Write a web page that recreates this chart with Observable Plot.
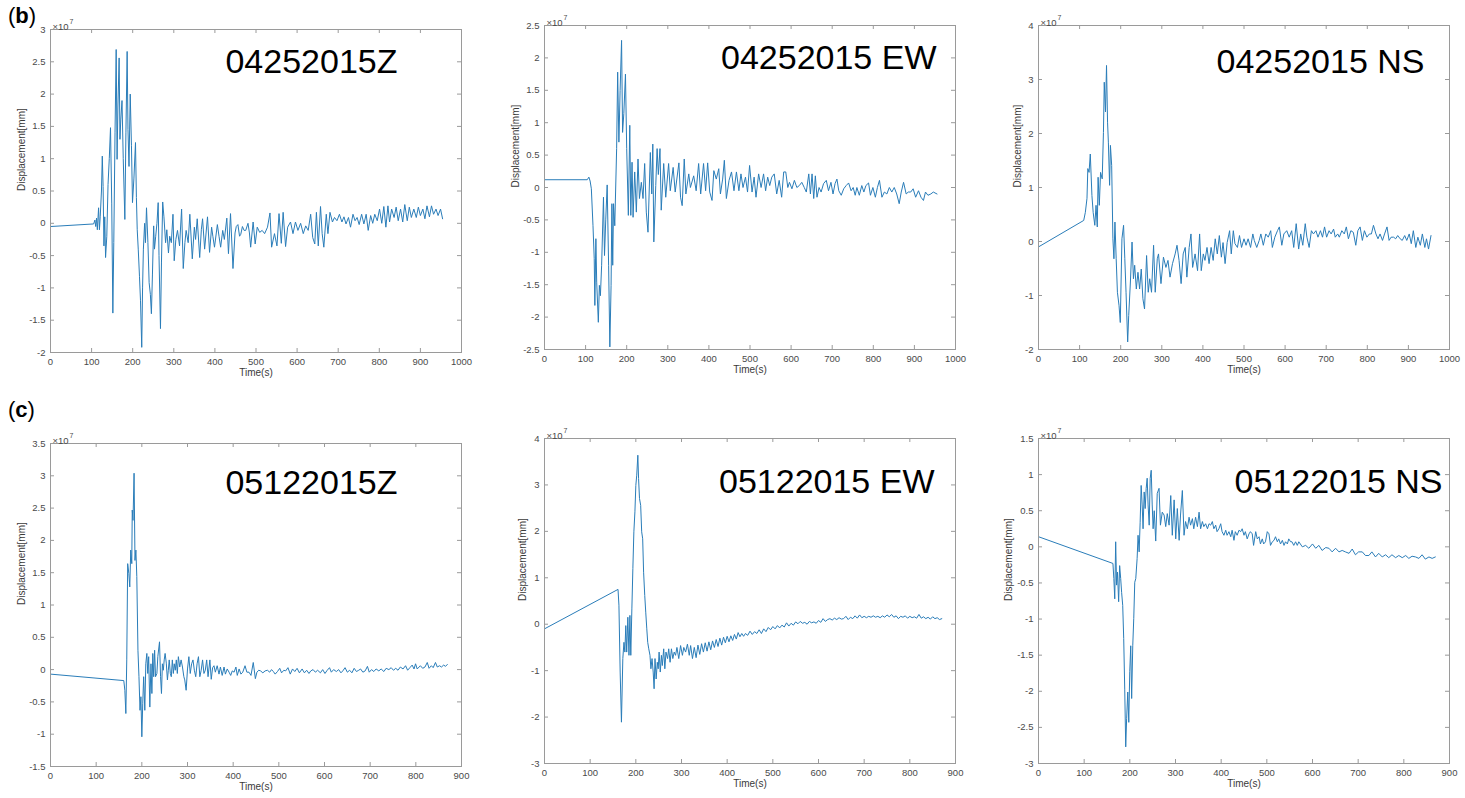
<!DOCTYPE html>
<html>
<head>
<meta charset="utf-8">
<script src="https://cdn.jsdelivr.net/npm/d3@7"></script>
<script src="https://cdn.jsdelivr.net/npm/@observablehq/plot@0.6"></script>
<style>
  html, body { margin: 0; padding: 0; background: #fff; }
  #root { position: relative; width: 1465px; height: 798px; overflow: hidden; background: #fff; font-family: "Liberation Sans", Arial, Helvetica, sans-serif; }
  .panel { position: absolute; }
  .tag { position: absolute; font-size: 22px; color: #000; line-height: 1; }
  .tag b { font-weight: bold; }
</style>
</head>
<body>
<div id="root">
  <div class="tag" style="left:8px; top:5px;">(<b>b</b>)</div>
  <div class="tag" style="left:8px; top:399px;">(<b>c</b>)</div>
</div>
<script>
// ---------- tick labels ----------
const xTicksRow1 = [0, 100, 200, 300, 400, 500, 600, 700, 800, 900, 1000];
const xTicksRow2 = [0, 100, 200, 300, 400, 500, 600, 700, 800, 900];
const yTicks0425Z  = [-2, -1.5, -1, -0.5, 0, 0.5, 1, 1.5, 2, 2.5, 3];
const yTicks0425EW = [-2.5, -2, -1.5, -1, -0.5, 0, 0.5, 1, 1.5, 2, 2.5];
const yTicks0425NS = [-2, -1, 0, 1, 2, 3, 4];
const yTicks0512Z  = [-1.5, -1, -0.5, 0, 0.5, 1, 1.5, 2, 2.5, 3, 3.5];
const yTicks0512EW = [-3, -2, -1, 0, 1, 2, 3, 4];
const yTicks0512NS = [-3, -2.5, -2, -1.5, -1, -0.5, 0, 0.5, 1, 1.5];

// ---------- panel titles ----------
const titles = ["04252015Z", "04252015 EW", "04252015 NS", "05122015Z", "05122015 EW", "05122015 NS"];

// ---------- series: [time (s), displacement (x1e7 mm)] ----------
const s0425Z = [[0,-0.05],[105,-0.01],[108,0.05],[110,-0.05],[112,0.08],[114,-0.1],[117,0.24],[119,-0.1],[121,0.1],[124,0.5],[126,1.04],[128,0.57],[130,-0.35],[132,0.1],[134,-0.53],[137,-0.2],[140,0.6],[143,1.0],[146,1.48],[149,0.3],[151.7,-1.39],[154,-0.3],[157,1.4],[159.8,2.69],[162,0.99],[164,1.8],[167,2.56],[169,1.3],[171,1.6],[174,1.9],[177,1.0],[180.9,0.06],[183.5,1.4],[186.5,2.66],[188.5,1.45],[191,0.88],[194,2.0],[197,1.2],[199.5,0.32],[203,0.7],[206.8,1.25],[209,0.4],[211,-0.1],[213.5,-0.4],[216.5,-0.82],[219,-1.2],[222,-1.92],[224,-1.0],[226,-0.4],[229,0.0],[231,-0.3],[233.6,0.24],[237,-0.3],[240,-0.92],[243,-1.1],[245.5,-1.4],[248,-0.8],[251,-0.04],[253,-0.4],[256,-0.2],[259,0.0],[262,0.32],[264,-0.5],[267.6,-1.63],[270,-0.6],[273,0.33],[276,0.1],[280,-0.3],[283,-0.1],[287,-0.46],[290,-0.2],[294,-0.3],[298,0.14],[301,-0.58],[305,-0.25],[309,-0.11],[314,-0.35],[319,0.22],[323,-0.7],[327,-0.3],[330,-0.11],[335,-0.3],[339,0.14],[345,-0.55],[350,-0.06],[353,-0.25],[357,0.07],[363,-0.53],[367,-0.1],[370,0.07],[375,-0.4],[382,0.1],[387,-0.45],[392,-0.06],[395,-0.2],[399,-0.37],[406,-0.02],[410,-0.2],[414,-0.37],[419,-0.11],[423,-0.25],[429,0.08],[433,-0.47],[438,0.15],[444,-0.7],[449,-0.15],[452,-0.05],[456,-0.02],[460,-0.2],[463,-0.17],[467,-0.05],[471,-0.11],[475,-0.11],[480.5,0.0],[484,-0.15],[487,-0.37],[493,0.02],[498,-0.32],[503,-0.06],[509,-0.14],[515,-0.11],[521,-0.16],[528,-0.06],[534,0.16],[538,-0.37],[545,-0.16],[551,-0.35],[556,0.15],[561.6,-0.31],[566,0.17],[572,-0.36],[577,-0.06],[584,0.02],[590,-0.16],[596,0.02],[602,-0.11],[608.6,0.0],[615,-0.16],[621,-0.04],[627,-0.11],[633,0.14],[638,-0.22],[643,-0.32],[647,0.17],[651.5,-0.35],[657,0.26],[661,-0.16],[665,-0.37],[671,0.14],[675,-0.16],[680,0.17],[686,0.02],[691,0.09],[697,0.04],[703,0.14],[709,0.02],[714,0.1],[719,-0.01],[725,0.09],[730,-0.06],[736,0.14],[741,0.04],[746,0.09],[751,-0.02],[757,0.14],[762.5,-0.01],[768,0.14],[773,-0.11],[779,0.12],[784,0.0],[789,0.14],[795,0.04],[800.6,0.22],[806,0.0],[811,0.26],[816,-0.06],[821,0.27],[825,0.02],[830,0.22],[836,0.09],[841,0.25],[846,0.04],[851.7,0.22],[857,0.02],[862,0.29],[868,0.04],[873,0.25],[878,0.09],[884,0.22],[890,0.09],[895,0.25],[900,0.12],[906,0.22],[911,0.07],[916,0.27],[922,0.1],[927,0.27],[932,0.14],[938,0.22],[943,0.12],[949,0.22],[954,0.07]];

const s0425EW = [[0,0.12],[104,0.12],[108,0.16],[111,0.1],[114,-0.02],[118,-0.59],[121,-1.1],[122.5,-1.82],[125,-0.79],[127,-1.46],[131,-2.08],[133.5,-1.51],[136,-1.67],[139,-1.2],[143.5,-0.15],[146,-1.05],[149,-0.5],[152.5,0.04],[156,-1.2],[159,-2.46],[162,-1.51],[164,-0.25],[166,-1.2],[168,-0.25],[171,-0.59],[175.5,0.6],[178,1.78],[181,0.7],[184,1.5],[187.5,2.27],[190,0.85],[193,1.14],[197,1.75],[200,0.6],[204,-0.43],[207.5,0.96],[210,-0.43],[213,0.39],[215.5,-0.46],[219.5,0.24],[223.5,-0.38],[227.5,0.44],[231,-0.17],[235.6,0.08],[239.7,-0.17],[243.7,0.37],[247.7,-0.38],[251.8,-0.69],[257.5,0.54],[261,-0.1],[263.5,0.67],[266,-0.84],[270.7,0.03],[274,0.6],[277,0.2],[281,0.6],[284,-0.35],[290,0.37],[295,-0.15],[302,0.37],[306,-0.05],[313,0.31],[318,-0.07],[327,0.38],[331,-0.15],[335,-0.28],[340,0.44],[344,-0.1],[351,0.21],[355,0.0],[363,0.18],[369,-0.05],[375,0.37],[380,-0.1],[387,0.37],[392,-0.05],[397,0.38],[402,-0.07],[407.6,-0.2],[412,0.26],[418,0.13],[424,0.29],[428,-0.1],[433.5,0.13],[437.6,0.42],[442.5,-0.17],[449,0.11],[455,0.24],[461,-0.05],[467,0.24],[473,-0.05],[478,0.21],[483,0.0],[489,0.16],[494,-0.07],[499,0.34],[505,-0.07],[510,0.16],[514.6,-0.15],[521,0.21],[527,0.0],[533,0.21],[538,-0.05],[543,0.16],[548,0.03],[553,0.16],[559,0.21],[565,-0.1],[571,0.11],[577,-0.15],[582,0.24],[587,0.24],[592,0.0],[596,0.08],[602,-0.02],[608,0.11],[614,0.0],[620,0.03],[626,0.08],[632,0.0],[637,-0.07],[643,0.21],[647,-0.1],[651,0.21],[655,-0.17],[659,0.18],[663,-0.15],[668,0.0],[673,-0.07],[679,0.06],[685.6,0.11],[691,-0.05],[697,0.08],[702,-0.1],[707,0.06],[711.5,0.13],[716,-0.05],[722,-0.12],[728,-0.02],[734,0.03],[740,0.07],[746,-0.05],[751,0.0],[756,-0.12],[760,0.0],[766,-0.12],[772,0.03],[777,-0.07],[782,0.03],[788.5,0.07],[793,-0.12],[799,0.0],[805,-0.15],[810,0.0],[815,0.11],[821,-0.15],[827,-0.07],[833,-0.1],[839,0.0],[845,-0.07],[851,0.0],[857,-0.1],[863,-0.25],[868,-0.07],[873.6,0.08],[880,-0.1],[885,-0.07],[891,-0.07],[897,-0.02],[903,-0.15],[910,-0.05],[916,-0.15],[922,-0.2],[927,-0.07],[933,-0.12],[940,-0.1],[946,-0.07],[955,-0.1]];

const s0425NS = [[0,-0.1],[110,0.39],[114,0.54],[118,0.8],[120,1.35],[123,1.28],[126,1.62],[130,0.85],[133,0.54],[137,0.3],[140,0.67],[143,0.27],[145,1.19],[148,0.67],[151,1.28],[155,1.16],[158,2.02],[160,2.95],[163,2.4],[165.5,3.26],[168,2.21],[170,1.84],[173,1.04],[175,1.78],[178,1.41],[181,0.05],[183.5,-0.32],[186,0.36],[189,-0.32],[192,-0.94],[196,-1.19],[199,-1.5],[203,0.05],[207,0.3],[210,-0.32],[213,-0.94],[217,-1.86],[219.5,-1.37],[223.6,-0.75],[227.6,-0.01],[231,-0.69],[234,-0.44],[238,-0.88],[242,-0.57],[246,-0.88],[250,-0.51],[254,-1.06],[258,-1.25],[263,-0.26],[267,-0.94],[270.6,-0.69],[275,-0.94],[280,-0.07],[284,-0.94],[289,-0.32],[292,-0.23],[298,-0.78],[304,-0.29],[310,-0.48],[315,-0.35],[320,-0.66],[326,-0.41],[332.5,-0.23],[337,-0.07],[342,-0.35],[347,-0.78],[352,-0.23],[357,-0.11],[361,-0.66],[366.6,-0.11],[371,0.14],[375,-0.48],[381,-0.23],[387,-0.54],[392,0.14],[396,-0.54],[401,-0.23],[405,-0.35],[410,-0.11],[415,-0.41],[420,-0.11],[425,-0.35],[430,0.05],[435,-0.23],[440,0.11],[445,-0.29],[449,-0.02],[454,-0.41],[459,-0.02],[465,0.2],[469,-0.23],[474,0.2],[478,-0.04],[484,-0.11],[489,0.11],[494,-0.11],[500,0.05],[505,-0.07],[510,0.05],[516,-0.11],[521.5,0.14],[525,0.02],[531,-0.11],[537,0.02],[541,0.14],[547,-0.07],[553,0.14],[559,0.08],[565,0.2],[569,-0.11],[575,0.08],[581.5,0.2],[586,0.27],[592,-0.07],[597,0.14],[604,0.2],[610,0.08],[616,0.2],[621,-0.11],[627,0.33],[633,-0.14],[638,0.14],[643,-0.07],[649,0.33],[653,0.08],[658.5,-0.11],[664,0.2],[669,0.14],[675,0.2],[680,0.08],[686,0.2],[691,0.08],[696,0.27],[701,0.08],[707,0.2],[712,0.14],[718,0.23],[722,0.08],[728,0.14],[732,0.08],[738,0.2],[744,0.14],[749,0.27],[754,0.05],[760,0.2],[766,0.17],[772,-0.07],[777,0.2],[782.5,0.27],[788,0.02],[793,0.2],[799,0.08],[805,0.14],[810,0.14],[815,0.3],[821,0.14],[826,0.05],[831,0.14],[837,0.02],[842,0.14],[848,0.27],[853,0.02],[858,0.08],[864,0.08],[869,0.05],[874,0.11],[880,0.05],[885,0.02],[891,0.11],[896,0.02],[902,0.14],[907,-0.04],[912,0.2],[918,-0.11],[923,0.08],[929,-0.07],[934,0.14],[940,-0.11],[944,0.05],[949,-0.14],[955,0.11]];

const s0512Z = [[0,-0.07],[160.5,-0.17],[162.8,-0.32],[165,-0.68],[167,0.15],[169,1.64],[171.5,1.49],[173.6,1.28],[175.7,1.85],[178,1.64],[179,2.47],[180.7,2.31],[183,3.04],[185,1.69],[187,1.85],[189,1.44],[191.5,0.3],[193.7,-0.11],[196,-0.63],[198,-0.42],[200,-1.04],[202,-0.52],[204,-0.11],[206.5,-0.63],[208.7,0.09],[211,0.25],[213,-0.06],[215,0.2],[217.5,-0.58],[220,0.09],[222,-0.37],[224,0.25],[226,-0.11],[228,0.3],[230,-0.11],[233,-0.06],[235,0.2],[238.7,0.43],[241,-0.11],[243,-0.37],[245,0.09],[247,-0.01],[249,0.15],[251,0.25],[253.6,0.1],[256,-0.16],[258,-0.01],[260,0.15],[262.4,-0.06],[264.5,-0.11],[266.8,0.15],[269,-0.06],[271,0.09],[273.3,-0.01],[275.5,0.15],[277.7,-0.06],[280,0.2],[283,0.04],[286,0.15],[289,0.04],[292,-0.11],[294,-0.16],[297,-0.32],[300,0.01],[303,0.2],[306,-0.06],[309,0.09],[312,0.15],[315,-0.01],[318,-0.11],[321,0.09],[324,0.2],[327,-0.11],[330,-0.01],[333,0.15],[336,-0.06],[339,-0.01],[342,0.15],[345,-0.11],[349,0.15],[352,-0.15],[355,0.03],[358,0.06],[361,-0.04],[365,0.06],[369,-0.07],[372,0.04],[376,-0.09],[380,0.04],[383,-0.07],[387,0.01],[391,-0.04],[394.6,-0.09],[398,-0.02],[402,-0.04],[406,0.04],[409,-0.09],[413,0.01],[417,-0.07],[421,-0.04],[426,0.06],[430,-0.04],[434.7,-0.04],[439,-0.09],[444,0.11],[448.6,-0.14],[452,-0.04],[456,-0.01],[460,-0.02],[465,-0.05],[470,-0.02],[475,-0.01],[480,-0.04],[484,0.0],[488,-0.03],[492,-0.07],[497,-0.03],[502,0.02],[506,-0.05],[511,-0.01],[515,-0.02],[520,0.03],[525,-0.07],[530,0.01],[535,-0.03],[540,0.02],[545,-0.05],[551,0.01],[556,-0.05],[561,-0.01],[566,-0.06],[570,-0.02],[575,0.0],[580,-0.04],[585,-0.01],[591,-0.05],[596,0.0],[601,-0.06],[606,-0.01],[611,0.03],[615,-0.04],[620,0.0],[626,-0.03],[631,0.0],[636,-0.05],[640,-0.02],[645,0.03],[650,-0.04],[655,-0.01],[660,-0.05],[665,0.02],[670,-0.03],[675,-0.01],[679,0.01],[684,-0.04],[689,-0.02],[694,0.05],[698,-0.04],[703,0.0],[708,-0.03],[713,0.01],[719,-0.02],[724,0.01],[730,-0.03],[735,0.02],[741,0.0],[746,0.03],[751,-0.01],[756,0.02],[761,-0.01],[766,0.04],[772,0.01],[777.5,0.06],[782,-0.01],[787,0.03],[792,0.07],[796,0.01],[799.4,0.09],[803,0.01],[810,0.06],[815,0.02],[820,0.04],[825,0.11],[829,0.02],[834,0.06],[838,0.03],[843,0.11],[847,0.04],[852,0.06],[856,0.04],[861,0.07],[865,0.05],[869,0.08]];

const s0512EW = [[0,-0.1],[161,0.75],[163,0.41],[165.7,-1.03],[168.5,-2.11],[171.5,-0.74],[174,-0.39],[176,-0.6],[178,-0.03],[180,-0.6],[182.5,0.15],[185,-0.67],[187,0.19],[189,-0.67],[191.3,0.33],[193.5,1.2],[195.7,1.99],[198,2.42],[200,2.99],[202,3.21],[204.4,3.64],[206,3.14],[208,2.71],[210.6,2.56],[212.8,1.99],[215,1.84],[217,1.12],[219.5,0.62],[221.7,0.26],[224,-0.1],[226,-0.39],[228.3,-0.53],[231,-0.67],[233,-0.96],[235.5,-0.74],[238,-1.03],[240,-1.39],[242,-0.74],[244.5,-1.18],[247,-0.82],[249,-0.96],[251,-0.6],[253.5,-1.03],[256,-0.67],[258,-0.89],[261,-0.53],[263.5,-0.96],[266,-0.6],[269.5,-0.74],[272,-0.53],[275,-0.82],[278,-0.53],[281,-0.74],[284,-0.6],[287,-0.67],[290,-0.5],[294,-0.74],[298,-0.46],[302,-0.67],[305,-0.5],[309,-0.6],[313,-0.43],[317,-0.67],[320,-0.46],[324,-0.74],[328,-0.5],[332,-0.72],[336,-0.45],[340,-0.65],[344,-0.42],[348,-0.6],[352,-0.4],[356,-0.58],[360,-0.38],[364,-0.55],[368,-0.36],[372,-0.5],[376,-0.33],[380,-0.48],[384,-0.3],[388,-0.45],[392,-0.28],[396,-0.4],[400,-0.26],[404,-0.38],[408,-0.25],[412,-0.35],[416,-0.22],[420,-0.32],[424,-0.18],[428,-0.27],[432,-0.2],[436,-0.26],[440,-0.2],[445,-0.24],[450,-0.15],[455,-0.22],[460,-0.16],[465,-0.2],[470,-0.12],[475,-0.2],[480,-0.1],[485,-0.16],[490,-0.07],[495,-0.12],[500,-0.05],[505,-0.1],[510,-0.03],[515,-0.08],[520,-0.02],[525,-0.06],[530,0.03],[535,-0.04],[540,0.02],[545,-0.02],[550,0.05],[555,0.01],[560,0.06],[565,0.02],[570,0.04],[575,0.0],[580,0.06],[585,0.03],[590,0.05],[595,0.02],[600,0.08],[605,0.04],[610,0.12],[615,0.06],[620,0.1],[625,0.12],[630,0.09],[635,0.13],[640,0.1],[645,0.14],[650,0.11],[655,0.12],[660,0.17],[665,0.1],[670,0.15],[675,0.12],[680,0.18],[685,0.13],[690,0.2],[695,0.14],[700,0.17],[705,0.14],[710,0.17],[715,0.15],[720,0.18],[725,0.15],[730,0.17],[735,0.14],[740,0.18],[745,0.15],[750,0.2],[755,0.16],[760,0.21],[765,0.15],[770,0.18],[775,0.12],[780,0.17],[785,0.15],[790,0.18],[795,0.13],[800,0.17],[805,0.14],[810,0.16],[815,0.13],[820,0.21],[825,0.13],[830,0.16],[835,0.12],[840,0.15],[845,0.11],[850,0.16],[855,0.12],[860,0.14],[865,0.1],[870,0.12]];

const s0512NS = [[0,0.14],[163,-0.23],[165,-0.44],[167,-0.72],[169,0.07],[171,-0.53],[173,-0.35],[175.5,-0.76],[177.7,-0.26],[180,-0.44],[182,-0.63],[184.4,-0.81],[186.6,-1.27],[188.8,-1.97],[191,-2.77],[193,-2.38],[195.5,-2.01],[197.7,-2.43],[199.8,-1.73],[202,-1.37],[204,-2.1],[206.4,-1.37],[208.6,-0.99],[210.8,-0.49],[213,-0.44],[216,-0.16],[218,0.16],[220.4,-0.07],[222.6,0.34],[224.8,0.85],[227,0.58],[229,0.25],[231.4,0.76],[233.6,0.53],[235.8,0.81],[238,0.95],[240,0.58],[242.4,0.3],[244.6,0.95],[246.8,1.06],[249,0.58],[251,0.25],[253.4,0.5],[256.7,0.08],[260,0.74],[264,0.81],[267,0.3],[271,0.48],[275,0.44],[278.6,0.28],[282,0.46],[286,0.3],[289.6,0.71],[293,0.16],[297,0.65],[300.5,0.11],[304,0.53],[308,0.09],[311,0.44],[315,0.78],[318.7,0.16],[322,0.35],[326,0.25],[329.7,0.41],[333,0.3],[337,0.39],[340,0.25],[344,0.41],[348,0.28],[351.6,0.48],[355,0.25],[358.9,0.35],[362,0.28],[366,0.32],[370,0.25],[373.5,0.32],[377,0.3],[380.7,0.35],[384,0.25],[388,0.3],[391,0.21],[395,0.25],[399,0.32],[402,0.21],[406,0.16],[410,0.23],[413,0.16],[417,0.21],[421,0.14],[424,0.23],[428,0.09],[431,0.21],[435,0.16],[439,0.23],[442.7,0.21],[446,0.25],[450,0.16],[453,0.21],[457,0.11],[461,0.18],[464,0.21],[468,0.18],[471,0.02],[475.6,0.21],[479,0.11],[483,0.14],[486,0.04],[490,0.11],[493,0.04],[497,0.07],[501,0.21],[504.7,0.18],[508,0.02],[512,0.07],[515.7,0.09],[519,0.14],[523,0.07],[526,0.11],[530,0.04],[534,0.09],[537.6,0.02],[541,0.07],[545,0.04],[548,0.11],[552,0.07],[555,0.07],[559,0.02],[563,0.07],[566.7,0.02],[570,0.07],[577.7,0],[585,0.02],[592,-0.02],[600,0.04],[607,-0.02],[614,0.02],[621,-0.05],[629,-0.01],[636,-0.02],[643,-0.07],[650.6,-0.02],[658,-0.07],[665,-0.05],[672,-0.07],[680,-0.09],[687,-0.03],[694,-0.11],[701,-0.07],[709,-0.07],[716,-0.12],[723.5,-0.12],[730,-0.07],[738,-0.14],[745,-0.09],[752.7,-0.14],[760,-0.11],[767,-0.15],[774,-0.11],[782,-0.15],[789,-0.12],[796.5,-0.15],[804,-0.12],[811,-0.16],[818,-0.13],[825.7,-0.14],[833,-0.16],[840,-0.11],[847,-0.17],[855,-0.14],[862,-0.16],[869,-0.14]];

// ---------- rendering ----------
const FONT = '"Liberation Sans", Arial, Helvetica, sans-serif';
const FRAME = "#9a9a9a";
const TICKTXT = "#4a4a4a";
const BLUE = "#2a7db9";
const fmt = d => String(d);

const panels = [
  {title: titles[0], data: s0425Z,  xTicks: xTicksRow1, yTicks: yTicks0425Z,  left: 0,   top: 0,   width: 480, height: 390, ml: 50, mr: 19, mt: 29, mb: 38, tdx: -64, tdy: 43, ydx: -29},
  {title: titles[1], data: s0425EW, xTicks: xTicksRow1, yTicks: yTicks0425EW, left: 490, top: 0,   width: 490, height: 390, ml: 54, mr: 25, mt: 25, mb: 41, tdx: -19, tdy: 43, ydx: -29},
  {title: titles[2], data: s0425NS, xTicks: xTicksRow1, yTicks: yTicks0425NS, left: 985, top: 0,   width: 480, height: 390, ml: 53, mr: 16, mt: 25, mb: 41, tdx: -25, tdy: 47, ydx: -21},
  {title: titles[3], data: s0512Z,  xTicks: xTicksRow2, yTicks: yTicks0512Z,  left: 0,   top: 395, width: 480, height: 403, ml: 50, mr: 19, mt: 48, mb: 32, tdx: -64, tdy: 50, ydx: -29},
  {title: titles[4], data: s0512EW, xTicks: xTicksRow2, yTicks: yTicks0512EW, left: 490, top: 395, width: 490, height: 403, ml: 54, mr: 25, mt: 43, mb: 35, tdx: -21, tdy: 54, ydx: -22},
  {title: titles[5], data: s0512NS, xTicks: xTicksRow2, yTicks: yTicks0512NS, left: 985, top: 395, width: 480, height: 403, ml: 53, mr: 16, mt: 43, mb: 35, tdx: -7,  tdy: 54, ydx: -30}
];

const root = document.getElementById("root");
for (const p of panels) {
  const ph = p.height - p.mt - p.mb;
  const pw = p.width - p.ml - p.mr;
  const rows = p.data.map(([t, v]) => ({t, v}));
  const svg = Plot.plot({
    width: p.width, height: p.height,
    marginLeft: p.ml, marginRight: p.mr, marginTop: p.mt, marginBottom: p.mb,
    style: {fontFamily: FONT, fontSize: "9.5px", background: "transparent", overflow: "visible"},
    x: {domain: [p.xTicks[0], p.xTicks[p.xTicks.length - 1]]},
    y: {domain: [p.yTicks[0], p.yTicks[p.yTicks.length - 1]]},
    marks: [
      Plot.axisX({ticks: p.xTicks, tickSize: 0, tickPadding: 6, tickFormat: fmt, fill: TICKTXT, label: null}),
      Plot.axisY({ticks: p.yTicks, tickSize: 0, tickPadding: 5, tickFormat: fmt, fill: TICKTXT, label: null}),
      Plot.tickX(p.xTicks, {x: d => d, stroke: FRAME, insetTop: ph - 4}),
      Plot.tickX(p.xTicks, {x: d => d, stroke: FRAME, insetBottom: ph - 4}),
      Plot.tickY(p.yTicks, {y: d => d, stroke: FRAME, insetLeft: pw - 4}),
      Plot.tickY(p.yTicks, {y: d => d, stroke: FRAME, insetRight: pw - 4}),
      Plot.line(rows, {x: "t", y: "v", stroke: BLUE, strokeWidth: 1}),
      Plot.frame({stroke: FRAME}),
      Plot.text([p.title], {text: d => d, frameAnchor: "top-right", textAnchor: "end", lineAnchor: "bottom", dx: p.tdx, dy: p.tdy, fontSize: 34, fill: "#000"}),
      Plot.text(["Time(s)"], {text: d => d, frameAnchor: "bottom", dy: 23, fontSize: 10, fill: "#3a3a3a"}),
      Plot.text(["Displacement[mm]"], {text: d => d, frameAnchor: "left", rotate: -90, dx: p.ydx, fontSize: 10, fill: "#3a3a3a"}),
      Plot.text(["\u00d710"], {text: d => d, frameAnchor: "top-left", textAnchor: "start", dx: 2, dy: -6, fontSize: 9.5, fill: TICKTXT}),
      Plot.text(["7"], {text: d => d, frameAnchor: "top-left", textAnchor: "start", dx: 19, dy: -10, fontSize: 7, fill: TICKTXT})
    ]
  });
  svg.classList.add("panel");
  svg.style.left = p.left + "px";
  svg.style.top = p.top + "px";
  svg.style.position = "absolute";
  root.appendChild(svg);
}
</script>
</body>
</html>
